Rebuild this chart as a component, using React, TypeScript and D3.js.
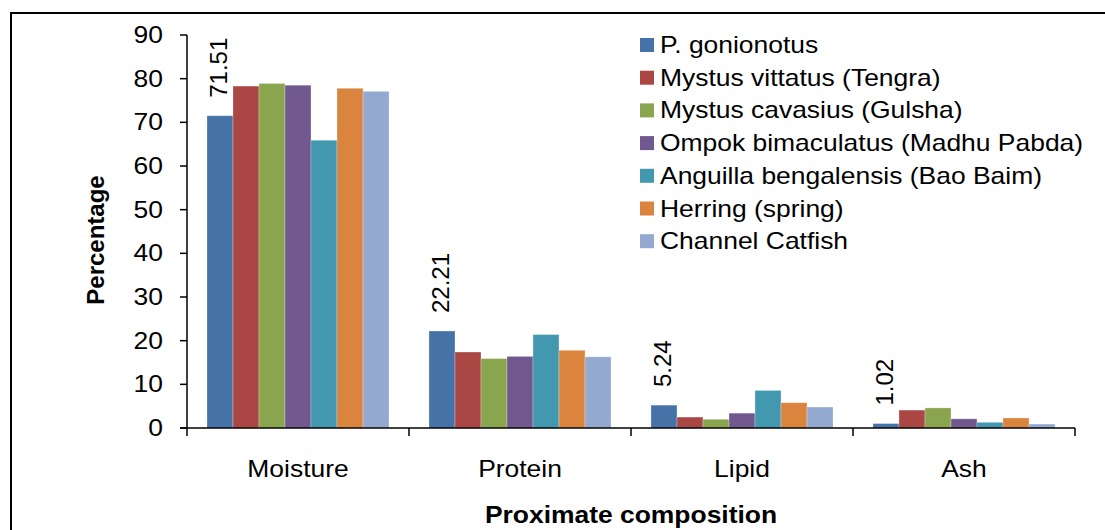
import * as d3 from "d3";

const categories = ["Moisture", "Protein", "Lipid", "Ash"];
const seriesNames = [
  "P. gonionotus",
  "Mystus vittatus (Tengra)",
  "Mystus cavasius (Gulsha)",
  "Ompok bimaculatus (Madhu Pabda)",
  "Anguilla bengalensis (Bao Baim)",
  "Herring (spring)",
  "Channel Catfish",
];
const colors = ["#4572A7", "#AA4643", "#89A54E", "#71588F", "#4198AF", "#DB843D", "#93A9CF"];

// values per series, ordered as categories
const pGonionotus = [71.51, 22.21, 5.24, 1.02];
const mystusVittatus = [78.3, 17.4, 2.5, 4.1];
const mystusCavasius = [78.9, 15.9, 2.0, 4.6];
const ompok = [78.5, 16.4, 3.4, 2.1];
const anguilla = [65.9, 21.4, 8.6, 1.3];
const herring = [77.8, 17.8, 5.8, 2.3];
const channelCatfish = [77.1, 16.3, 4.8, 0.9];
const seriesValues = [pGonionotus, mystusVittatus, mystusCavasius, ompok, anguilla, herring, channelCatfish];

const yTicks = [0, 10, 20, 30, 40, 50, 60, 70, 80, 90];

const W = 1105;
const H = 530;
const left = 187;
const right = 1075;
const top = 35;
const bottom = 428;
const font = "Liberation Sans, Arial, sans-serif";
const fs = 23;
const sx = 1.15; // the original is a bit wider than tall

// horizontal text, slightly stretched like the source image
function HText({ x, y, anchor = "start", bold = false, children }: { x: number; y: number; anchor?: string; bold?: boolean; children: any }) {
  return (
    <g transform={`translate(${x},${y}) scale(${sx},1)`}>
      <text textAnchor={anchor} fontSize={fs} fontWeight={bold ? "bold" : "normal"} dy={anchor === "end" ? "0.35em" : undefined}>
        {children}
      </text>
    </g>
  );
}

export default function App() {
  const y = d3.scaleLinear().domain([0, 90]).range([bottom, top]);
  const x0 = d3.scaleBand<string>().domain(categories).range([left, right]).paddingInner(0.18).paddingOuter(0.09);
  const x1 = d3.scaleBand<number>().domain(d3.range(seriesNames.length)).range([0, x0.bandwidth()]);
  const catTicks = [left, ...categories.map((c) => (x0(c) ?? 0) + x0.bandwidth() / 2 + x0.step() / 2)];

  return (
    <svg width={W} height={H} style={{ position: "absolute", left: 0, top: 0, background: "#fff" }} fontFamily={font}>
      {/* outer frame */}
      <path d={`M11,${H} L11,13 L${W},13`} fill="none" stroke="#000" strokeWidth={2} />

      {/* bars */}
      {categories.map((c, ci) => (
        <g key={c} transform={`translate(${x0(c)},0)`}>
          {seriesValues.map((vals, si) => (
            <rect
              key={si}
              x={x1(si)}
              y={y(vals[ci])}
              width={x1.bandwidth()}
              height={bottom - y(vals[ci])}
              fill={colors[si]}
              stroke="rgba(255,255,255,0.35)"
              strokeWidth={0.8}
            />
          ))}
          {/* value label over first series */}
          <text
            transform={`translate(${(x1(0) ?? 0) + x1.bandwidth() / 2 + 7},${y(pGonionotus[ci]) - 18}) rotate(-90)`}
            fontSize={24}
            textAnchor="start"
          >
            {pGonionotus[ci].toFixed(2)}
          </text>
        </g>
      ))}

      {/* y axis */}
      <line x1={left} x2={left} y1={top} y2={bottom} stroke="#000" strokeWidth={1.5} />
      {yTicks.map((t) => (
        <g key={t}>
          <line x1={left - 7} x2={left} y1={y(t)} y2={y(t)} stroke="#000" strokeWidth={1.5} />
          <HText x={163} y={y(t)} anchor="end">
            {t}
          </HText>
        </g>
      ))}

      {/* x axis */}
      <line x1={left - 7} x2={right} y1={bottom} y2={bottom} stroke="#000" strokeWidth={1.5} />
      {catTicks.map((tx, i) => (
        <line key={i} x1={tx} x2={tx} y1={bottom} y2={bottom + 8} stroke="#000" strokeWidth={1.5} />
      ))}
      {categories.map((c) => (
        <HText key={c} x={(x0(c) ?? 0) + x0.bandwidth() / 2} y={477} anchor="middle">
          {c}
        </HText>
      ))}

      {/* axis titles */}
      <HText x={(left + right) / 2} y={523} anchor="middle" bold>
        Proximate composition
      </HText>
      <text transform={`translate(104,240) rotate(-90)`} textAnchor="middle" fontSize={24} fontWeight="bold">
        Percentage
      </text>

      {/* legend */}
      {seriesNames.map((n, i) => (
        <g key={n} transform={`translate(640,${45 + i * 32.7})`}>
          <rect x={0} y={-7} width={14} height={14} fill={colors[i]} />
          <HText x={20} y={8}>
            {n}
          </HText>
        </g>
      ))}
    </svg>
  );
}
